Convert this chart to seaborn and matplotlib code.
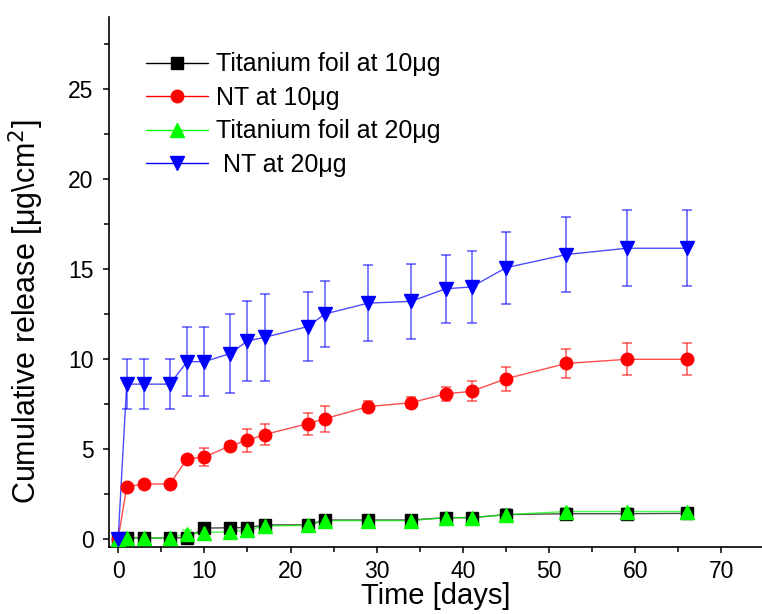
import matplotlib
matplotlib.use("Agg")
import matplotlib.pyplot as plt
from matplotlib.lines import Line2D
from matplotlib.ticker import MultipleLocator
import seaborn as sns
import pandas as pd

# release data
days = [0, 1, 3, 6, 8, 10, 13, 15, 17, 22, 24, 29, 34, 38, 41, 45, 52, 59, 66]

ti10 = [0, 0.05, 0.05, 0.05, 0.07, 0.6, 0.62, 0.63, 0.78, 0.78, 1.05, 1.05, 1.05, 1.18, 1.18, 1.35, 1.4, 1.4, 1.42]
ti10_err = [0, 0.05, 0.05, 0.05, 0.15, 0.3, 0.25, 0.25, 0.2, 0.15, 0.2, 0.2, 0.2, 0.2, 0.2, 0.3, 0.25, 0.25, 0.25]

nt10 = [0, 2.9, 3.05, 3.05, 4.45, 4.55, 5.17, 5.48, 5.8, 6.4, 6.68, 7.35, 7.57, 8.06, 8.2, 8.9, 9.75, 9.98, 9.98]
nt10_err = [0, 0.1, 0.1, 0.1, 0.15, 0.5, 0.2, 0.63, 0.6, 0.6, 0.72, 0.3, 0.3, 0.38, 0.55, 0.68, 0.83, 0.88, 0.88]

ti20 = [0, 0.05, 0.05, 0.05, 0.28, 0.35, 0.4, 0.5, 0.72, 0.75, 1.02, 1.02, 1.02, 1.18, 1.18, 1.35, 1.52, 1.52, 1.52]
ti20_err = [0, 0.2, 0.1, 0.15, 0.2, 0.25, 0.25, 0.25, 0.25, 0.25, 0.2, 0.2, 0.25, 0.25, 0.25, 0.25, 0.2, 0.2, 0.2]

nt20 = [0, 8.6, 8.6, 8.6, 9.85, 9.85, 10.3, 11.0, 11.2, 11.8, 12.5, 13.1, 13.2, 13.9, 14.0, 15.07, 15.8, 16.15, 16.15]
nt20_err = [0, 1.4, 1.4, 1.4, 1.9, 1.9, 2.2, 2.2, 2.4, 1.9, 1.85, 2.1, 2.07, 1.9, 2.0, 2.0, 2.1, 2.1, 2.1]

labels = ["Titanium foil at 10\u03bcg", "NT at 10\u03bcg", "Titanium foil at 20\u03bcg", " NT at 20\u03bcg"]
colors = ["#000000", "#ff0000", "#00ff00", "#0000ff"]
markers = ["s", "o", "^", "v"]
msizes = [8, 9, 10, 10]

series = [(ti10, ti10_err), (nt10, nt10_err), (ti20, ti20_err), (nt20, nt20_err)]

sns.set_style("ticks")
plt.rcParams["font.family"] = ["Liberation Sans", "DejaVu Sans"]
plt.rcParams["text.color"] = "black"
plt.rcParams["axes.labelcolor"] = "black"
plt.rcParams["xtick.color"] = "black"
plt.rcParams["ytick.color"] = "black"

fig = plt.figure(figsize=(7.62, 6.14), dpi=100)
ax = fig.add_axes([0.1437, 0.1091, 0.8563, 0.8632])

handles = []
for (vals, errs), lab, c, m, ms in zip(series, labels, colors, markers, msizes):
    df = pd.DataFrame({"day": days, "release": vals})
    ax.errorbar(days, vals, yerr=errs, fmt="none", ecolor=c, alpha=0.65,
                elinewidth=1.1, capsize=3.6, capthick=1.1, zorder=2)
    sns.lineplot(data=df, x="day", y="release", color=c, alpha=0.7,
                 linewidth=1.0, ax=ax, zorder=3)
    ax.plot(days, vals, linestyle="none", marker=m, markersize=ms,
            color=c, markeredgecolor=c, zorder=4)
    handles.append(Line2D([], [], color=c, linewidth=1.0, marker=m,
                          markersize=ms, markerfacecolor=c, markeredgecolor=c))

ax.set_xlim(-1, 74.7)
ax.set_ylim(-0.45, 29)
ax.xaxis.set_major_locator(MultipleLocator(10))
ax.xaxis.set_minor_locator(MultipleLocator(5))
ax.yaxis.set_major_locator(MultipleLocator(5))
ax.yaxis.set_minor_locator(MultipleLocator(2.5))
ax.tick_params(which="major", direction="out", length=4.5, width=1.1,
               labelsize=16.5, color="black", labelcolor="black")
ax.tick_params(axis="y", which="major", pad=7)
ax.tick_params(axis="x", which="major", pad=5)
ax.tick_params(which="minor", direction="out", length=3.5, width=1.1, color="black")

for s in ["top", "right"]:
    ax.spines[s].set_visible(False)
for s in ["left", "bottom"]:
    ax.spines[s].set_linewidth(1.2)
    ax.spines[s].set_color("black")

ax.set_xlabel("Time [days]", fontsize=21, labelpad=-1)
ax.set_ylabel("Cumulative release [\u03bcg\\cm$^2$]", fontsize=22)
ax.yaxis.set_label_coords(-0.097, 0.445)

ax.legend(handles, labels, loc="upper left", bbox_to_anchor=(0.04, 0.952),
          frameon=False, fontsize=18, handlelength=2.5, handletextpad=0.3,
          labelspacing=0.38, numpoints=1, borderaxespad=0)

fig.savefig("out.png", dpi=100)
